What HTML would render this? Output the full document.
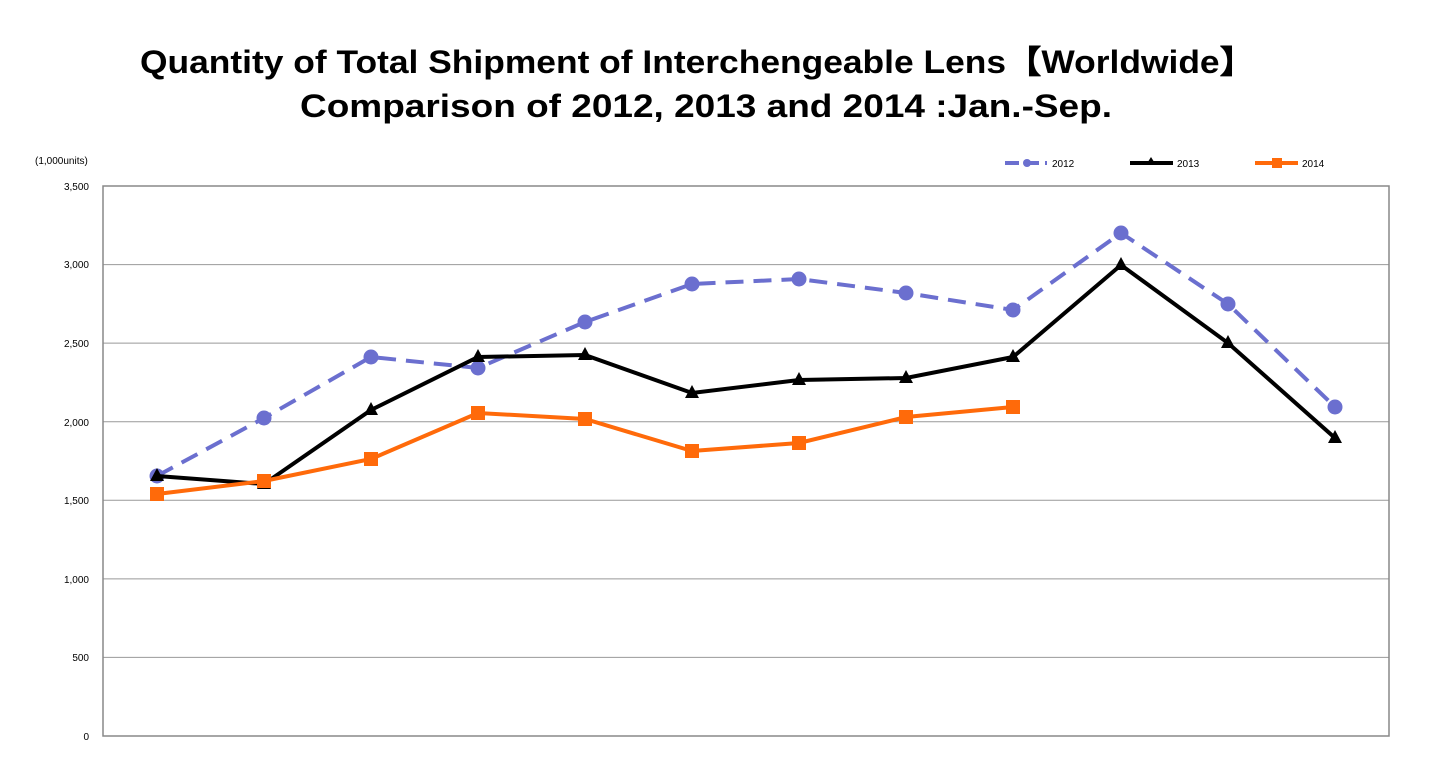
<!DOCTYPE html>
<html><head><meta charset="utf-8"><style>
body{margin:0;background:#fff;}
svg{display:block;font-family:"Liberation Sans",sans-serif;}
</style></head><body>
<svg width="1438" height="762" viewBox="0 0 1438 762">
<text x="140" y="73" font-size="32" font-weight="bold" textLength="1115" lengthAdjust="spacingAndGlyphs">Quantity of Total Shipment of Interchengeable Lens【Worldwide】</text>
<text x="300" y="117" font-size="32" font-weight="bold" textLength="812" lengthAdjust="spacingAndGlyphs">Comparison of 2012, 2013 and 2014 :Jan.-Sep.</text>
<text x="35" y="164" font-size="10">(1,000units)</text>
<g stroke="#999" stroke-width="1">
<line x1="103" y1="657.4" x2="1389" y2="657.4"/>
<line x1="103" y1="578.9" x2="1389" y2="578.9"/>
<line x1="103" y1="500.3" x2="1389" y2="500.3"/>
<line x1="103" y1="421.7" x2="1389" y2="421.7"/>
<line x1="103" y1="343.1" x2="1389" y2="343.1"/>
<line x1="103" y1="264.6" x2="1389" y2="264.6"/>
</g>
<rect x="103" y="186" width="1286" height="550" fill="none" stroke="#888" stroke-width="1.5"/>
<g font-size="10" text-anchor="end">
<text x="89" y="740">0</text><text x="89" y="661">500</text><text x="89" y="583">1,000</text>
<text x="89" y="504">1,500</text><text x="89" y="426">2,000</text><text x="89" y="347">2,500</text>
<text x="89" y="268">3,000</text><text x="89" y="190">3,500</text>
</g>
<polyline fill="none" stroke="#6b6fcf" stroke-width="4" stroke-dasharray="18,10" points="157,476 264,418 371,357 478,368 585,322 692,284 799,279 906,293 1013,310 1121,233 1228,304 1335,407"/>
<g fill="#6b6fcf">
<circle cx="157" cy="476" r="7.5"/><circle cx="264" cy="418" r="7.5"/><circle cx="371" cy="357" r="7.5"/><circle cx="478" cy="368" r="7.5"/><circle cx="585" cy="322" r="7.5"/><circle cx="692" cy="284" r="7.5"/><circle cx="799" cy="279" r="7.5"/><circle cx="906" cy="293" r="7.5"/><circle cx="1013" cy="310" r="7.5"/><circle cx="1121" cy="233" r="7.5"/><circle cx="1228" cy="304" r="7.5"/><circle cx="1335" cy="407" r="7.5"/>
</g>
<polyline fill="none" stroke="#000" stroke-width="4" points="157,476 264,484 371,410 478,357 585,355 692,393 799,380 906,378 1013,357 1121,265 1228,343 1335,438"/>
<g fill="#000">
<path d="M157,468l7,13h-14z"/><path d="M264,476l7,13h-14z"/><path d="M371,402l7,13h-14z"/><path d="M478,349l7,13h-14z"/><path d="M585,347l7,13h-14z"/><path d="M692,385l7,13h-14z"/><path d="M799,372l7,13h-14z"/><path d="M906,370l7,13h-14z"/><path d="M1013,349l7,13h-14z"/><path d="M1121,257l7,13h-14z"/><path d="M1228,335l7,13h-14z"/><path d="M1335,430l7,13h-14z"/>
</g>
<polyline fill="none" stroke="#ff6a0a" stroke-width="4" points="157,494 264,481 371,459 478,413 585,419 692,451 799,443 906,417 1013,407"/>
<g fill="#ff6a0a">
<rect x="150" y="487" width="14" height="14"/><rect x="257" y="474" width="14" height="14"/><rect x="364" y="452" width="14" height="14"/><rect x="471" y="406" width="14" height="14"/><rect x="578" y="412" width="14" height="14"/><rect x="685" y="444" width="14" height="14"/><rect x="792" y="436" width="14" height="14"/><rect x="899" y="410" width="14" height="14"/><rect x="1006" y="400" width="14" height="14"/>
</g>
<g font-size="10">
<line x1="1005" y1="163" x2="1047" y2="163" stroke="#6b6fcf" stroke-width="4" stroke-dasharray="14,6"/>
<circle cx="1027" cy="163" r="4" fill="#6b6fcf"/>
<text x="1052" y="167">2012</text>
<line x1="1130" y1="163" x2="1173" y2="163" stroke="#000" stroke-width="4"/>
<path d="M1151,157l5,8h-10z"/>
<text x="1177" y="167">2013</text>
<line x1="1255" y1="163" x2="1298" y2="163" stroke="#ff6a0a" stroke-width="4"/>
<rect x="1272" y="158" width="10" height="10" fill="#ff6a0a"/>
<text x="1302" y="167">2014</text>
</g>
</svg>
</body></html>
